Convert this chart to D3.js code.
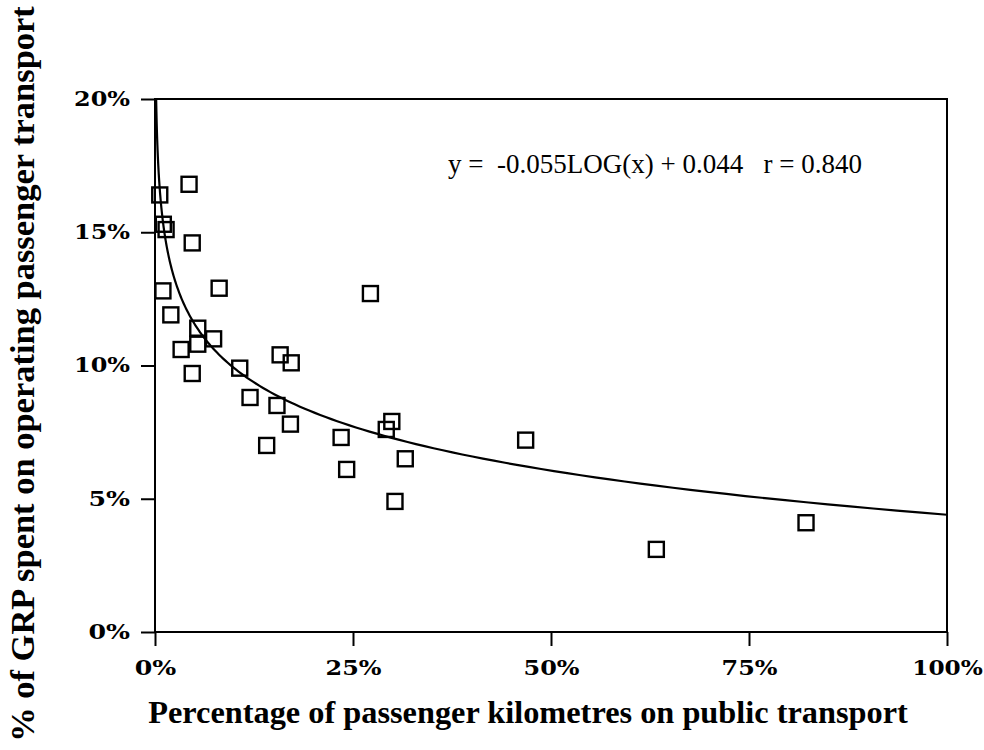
<!DOCTYPE html>
<html>
<head>
<meta charset="utf-8">
<script src="https://cdn.jsdelivr.net/npm/d3@7"></script>
<style>
  html, body { margin: 0; padding: 0; background: #fff; }
  svg { display: block; }
  text { font-family: "Palatino Linotype", "Book Antiqua", Palatino, "Liberation Serif", serif; fill: #000; }
</style>
</head>
<body>
<svg id="chart" width="984" height="750"></svg>
<script>
// Share of passenger kilometres on public transport (fraction)
const publicShare = [
  0.006, 0.043, 0.0105, 0.014, 0.047, 0.010, 0.081, 0.020, 0.054, 0.033,
  0.054, 0.074, 0.047, 0.107, 0.158, 0.172, 0.120, 0.154, 0.171, 0.141,
  0.235, 0.242, 0.292, 0.299, 0.316, 0.303, 0.272, 0.468, 0.633, 0.822
];
// Share of GRP spent on operating passenger transport (fraction)
const grpShare = [
  0.164, 0.168, 0.153, 0.151, 0.146, 0.128, 0.129, 0.119, 0.114, 0.106,
  0.108, 0.110, 0.097, 0.099, 0.104, 0.101, 0.088, 0.085, 0.078, 0.070,
  0.073, 0.061, 0.076, 0.079, 0.065, 0.049, 0.127, 0.072, 0.031, 0.041
];
// Logarithmic fit: y = slope * log10(x) + intercept
const fitSlope = -0.055;
const fitIntercept = 0.044;
const fitR = 0.840;
const xTicks = [0, 0.25, 0.5, 0.75, 1];
const yTicks = [0, 0.05, 0.10, 0.15, 0.20];

const svg = d3.select("#chart");
const plotLeft = 155, plotRight = 947, plotTop = 99, plotBottom = 632;

const x = d3.scaleLinear().domain([0, 1]).range([plotLeft, plotRight]);
const y = d3.scaleLinear().domain([0, 0.2]).range([plotBottom, plotTop]);
const pct = d3.format(".0%");

// Fit a text element to a given width by adjusting its font size
function fitWidth(sel, width) {
  const node = sel.node();
  const fs = parseFloat(sel.attr("font-size"));
  const w = node.getComputedTextLength();
  sel.attr("font-size", (fs * width / w).toFixed(2));
}

// Axes
const yAxis = svg.append("g")
  .attr("transform", `translate(${plotLeft},0)`)
  .call(d3.axisLeft(y).tickValues(yTicks).tickFormat(pct).tickSize(14).tickPadding(11));
const xAxis = svg.append("g")
  .attr("transform", `translate(0,${plotBottom})`)
  .call(d3.axisBottom(x).tickValues(xTicks).tickFormat(pct).tickSize(14).tickPadding(15));

[yAxis, xAxis].forEach(g => {
  g.attr("font-family", null).attr("font-size", null);
  g.select(".domain").remove();
  g.selectAll(".tick line").attr("stroke", "#000").attr("stroke-width", 2);
  g.selectAll(".tick text")
    .attr("fill", "#000")
    .attr("font-size", 20)
    .attr("font-weight", "bold")
    .style("font-family", '"DejaVu Serif", serif')
    .attr("lengthAdjust", "spacingAndGlyphs")
    .attr("textLength", function () {
      const s = d3.select(this).text();
      return (s.length - 1) * 14.5 + 27;
    });
});

// Plot frame
svg.append("rect")
  .attr("x", plotLeft).attr("y", plotTop)
  .attr("width", plotRight - plotLeft).attr("height", plotBottom - plotTop)
  .attr("fill", "none").attr("stroke", "#000").attr("stroke-width", 2);

// Clip for trend line
svg.append("clipPath").attr("id", "plotClip")
  .append("rect").attr("x", plotLeft).attr("y", plotTop)
  .attr("width", plotRight - plotLeft).attr("height", plotBottom - plotTop);

// Trend line from the fitted equation
const fit = v => fitSlope * Math.log10(v) + fitIntercept;
const xStart = Math.pow(10, (0.2 - fitIntercept) / fitSlope);
const samples = d3.range(0, 201).map(i => xStart * Math.pow(1 / xStart, i / 200));
svg.append("path")
  .datum(samples)
  .attr("clip-path", "url(#plotClip)")
  .attr("fill", "none")
  .attr("stroke", "#000")
  .attr("stroke-width", 2.2)
  .attr("d", d3.line().x(d => x(d)).y(d => y(fit(d))));

// Data points as hollow squares
const side = 15;
svg.append("g")
  .selectAll("rect")
  .data(publicShare.map((v, i) => [v, grpShare[i]]))
  .join("rect")
  .attr("x", d => x(d[0]) - side / 2)
  .attr("y", d => y(d[1]) - side / 2)
  .attr("width", side).attr("height", side)
  .attr("fill", "none")
  .attr("stroke", "#000")
  .attr("stroke-width", 2.4);

// Equation label
const eq = svg.append("text")
  .attr("x", 448).attr("y", 173)
  .attr("font-size", 21)
  .attr("xml:space", "preserve")
  .style("white-space", "pre")
  .text(`y =  ${fitSlope.toFixed(3)}LOG(x) + ${fitIntercept.toFixed(3)}   r = ${fitR.toFixed(3)}`);
fitWidth(eq, 414);

// Axis titles
const xTitle = svg.append("text")
  .attr("x", (148 + 908) / 2).attr("y", 723)
  .attr("text-anchor", "middle")
  .attr("font-size", 26)
  .attr("font-weight", "bold")
  .text("Percentage of passenger kilometres on public transport");
fitWidth(xTitle, 760);

const yTitle = svg.append("text")
  .attr("transform", `translate(34,${(6 + 742) / 2}) rotate(-90)`)
  .attr("text-anchor", "middle")
  .attr("font-size", 26)
  .attr("font-weight", "bold")
  .text("% of GRP spent on operating passenger transport");
fitWidth(yTitle, 736);
</script>
</body>
</html>
